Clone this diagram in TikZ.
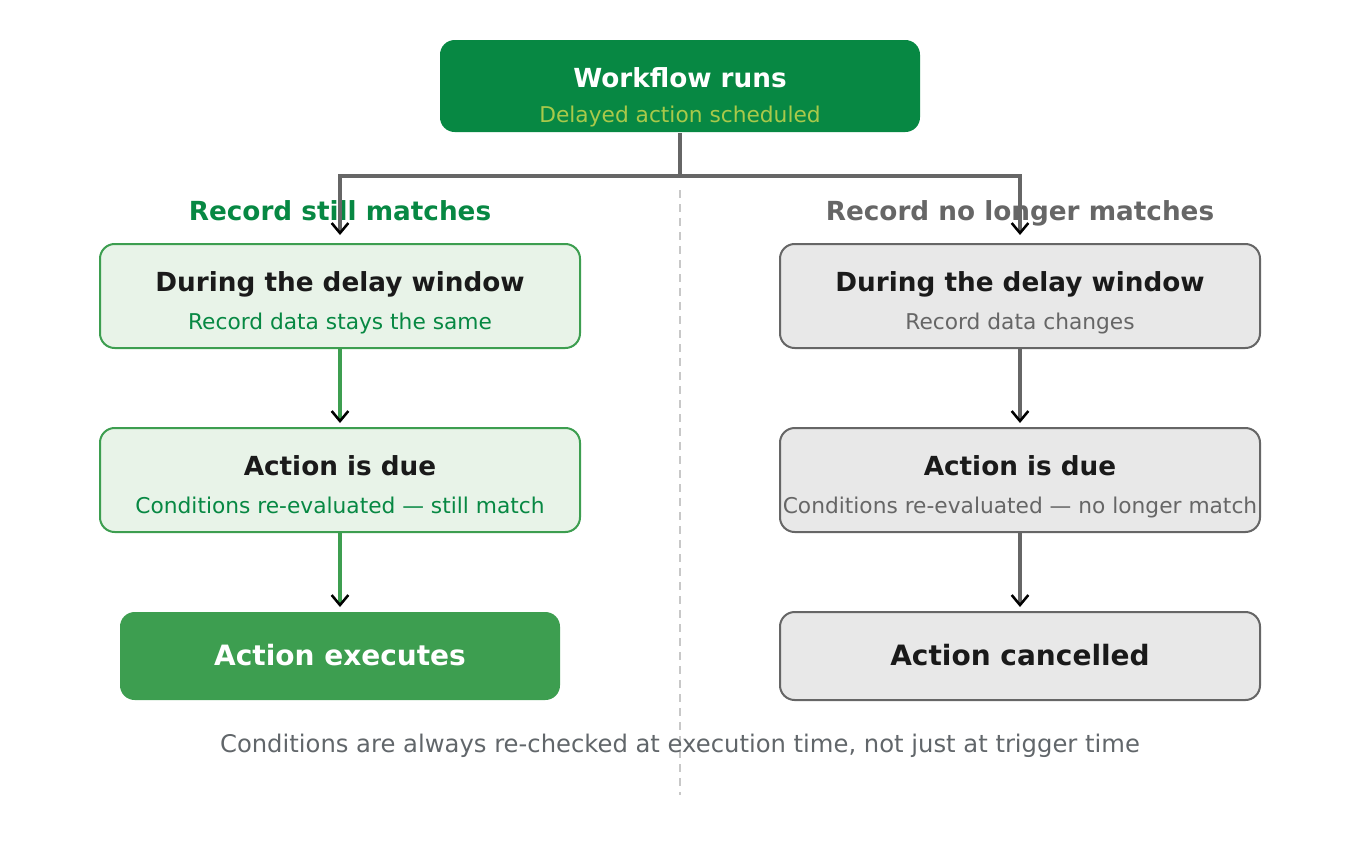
\documentclass[tikz,border=0pt]{standalone}
\usepackage{fontspec}
\setmainfont{DejaVu Sans}
\usetikzlibrary{arrows.meta}
\definecolor{topgreen}{HTML}{078843}
\definecolor{subyellow}{HTML}{A9C94A}
\definecolor{midgreen}{HTML}{3D9E50}
\definecolor{lightgreen}{HTML}{E8F3E8}
\definecolor{greytext}{HTML}{666666}
\definecolor{foottext}{HTML}{61666A}
\definecolor{greyfill}{HTML}{E8E8E8}
\definecolor{darktext}{HTML}{1A1A1A}
\definecolor{dashgrey}{HTML}{C8C8C8}
\tikzset{
  box/.style={rounded corners=11pt, line width=1.5pt, inner sep=0pt},
  gbox/.style={box, draw=midgreen, fill=lightgreen, minimum width=360pt, minimum height=78pt},
  nbox/.style={box, draw=greytext, fill=greyfill, minimum width=360pt, minimum height=78pt},
  ttl/.style={anchor=base, font=\bfseries\fontsize{19.7pt}{22pt}\selectfont, text=darktext, inner sep=0pt},
  sub/.style={anchor=base, font=\fontsize{16.3pt}{19pt}\selectfont, inner sep=0pt},
  big/.style={anchor=base, font=\bfseries\fontsize{21pt}{24pt}\selectfont, inner sep=0pt},
  conn/.style={line width=2.4pt},
  tip/.style={-{Straight Barb[length=7.5pt,width=12.5pt,line width=1.9pt,color=black]}},
}
\begin{document}
\begin{tikzpicture}[x=0.75pt,y=-0.75pt]
\useasboundingbox (0,0) rectangle (1360,840);
% divider
\draw[dashgrey, line width=1.3pt, dash pattern=on 6pt off 4.5pt] (680,190) -- (680,795);
% top box
\node[box, fill=topgreen, minimum width=360pt, minimum height=69pt] (top) at (680,86) {};
\node[ttl, text=white] (topt) at (680,87) {Workflow runs};
\node[sub, text=subyellow] (tops) at (680,122) {Delayed action scheduled};
% branch labels
\node[ttl, text=topgreen] (labl) at (340,220) {Record still matches};
\node[ttl, text=greytext] (labr) at (1020,220) {Record no longer matches};
% left column
\node[gbox] (l1) at (340,296) {};
\node[ttl] (l1t) at (340,291) {During the delay window};
\node[sub, text=topgreen] (l1s) at (340,329) {Record data stays the same};
\node[gbox] (l2) at (340,480) {};
\node[ttl] (l2t) at (340,475) {Action is due};
\node[sub, text=topgreen] (l2s) at (340,513) {Conditions re-evaluated — still match};
\node[box, fill=midgreen, minimum width=330pt, minimum height=66pt] (l3) at (340,656) {};
\node[big, text=white] (l3t) at (340,665) {Action executes};
% right column
\node[nbox] (r1) at (1020,296) {};
\node[ttl] (r1t) at (1020,291) {During the delay window};
\node[sub, text=greytext] (r1s) at (1020,329) {Record data changes};
\node[nbox] (r2) at (1020,480) {};
\node[ttl] (r2t) at (1020,475) {Action is due};
\node[sub, text=greytext] (r2s) at (1020,513) {Conditions re-evaluated — no longer match};
\node[nbox, minimum height=66pt] (r3) at (1020,656) {};
\node[big, text=darktext] (r3t) at (1020,665) {Action cancelled};
% footer
\node[anchor=base, inner sep=0pt, font=\fontsize{18.2pt}{21pt}\selectfont, text=foottext] (foot) at (680,752) {Conditions are always re-checked at execution time, not just at trigger time};
% connectors
\coordinate (fork) at (680,176);
\draw[conn, greytext] (top.south) -- (fork);
\draw[conn, greytext, tip, shorten >=6pt] (fork) -| (l1.north);
\draw[conn, greytext, tip, shorten >=6pt] (fork) -| (r1.north);
\draw[conn, midgreen, tip, shorten >=3pt] (l1.south) -- (l2.north);
\draw[conn, midgreen, tip, shorten >=3pt] (l2.south) -- (l3.north);
\draw[conn, greytext, tip, shorten >=3pt] (r1.south) -- (r2.north);
\draw[conn, greytext, tip, shorten >=3pt] (r2.south) -- (r3.north);
\end{tikzpicture}
\end{document}
